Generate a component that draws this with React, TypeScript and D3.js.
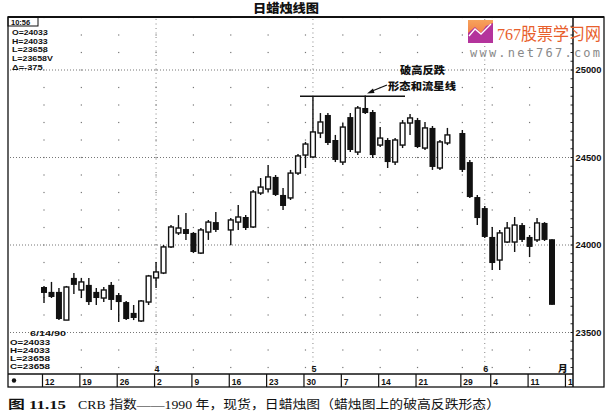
import React from "react";
import * as d3 from "d3";

// ---- data (CRB index, 1990, daily) ----
const tradingDays = [
  "03-12","03-13","03-14","03-15","03-16","03-19","03-20","03-21","03-22","03-23",
  "03-26","03-27","03-28","03-29","03-30",
  "04-02","04-03","04-04","04-05","04-06","04-09","04-10","04-11","04-12",
  "04-16","04-17","04-18","04-19","04-20","04-23","04-24","04-25","04-26","04-27","04-30",
  "05-01","05-02","05-03","05-04","05-07","05-08","05-09","05-10","05-11",
  "05-14","05-15","05-16","05-17","05-18","05-21","05-22","05-23","05-24","05-25",
  "05-29","05-30","05-31",
  "06-01","06-04","06-05","06-06","06-07","06-08","06-11","06-12","06-13","06-14",
];
const opens = [
  23760,23732,23732,23571,23812,23743,23772,23732,23697,23772,
  23714,23674,23612,23566,23674,
  23812,23840,23989,24069,24091,24069,23954,24074,24131,
  24086,24131,24160,24103,24297,24320,24389,24286,24269,24411,24514,
  24503,24640,24743,24600,24474,24731,24531,24783,24760,
  24571,24600,24474,24571,24697,24714,24554,24669,24440,24583,
  24640,24474,24274,
  24211,24046,23914,24017,24017,24114,24046,24029,24126,24033,
];
const highs = [
  23766,23789,23754,23766,23840,23812,23812,23754,23760,23789,
  23726,23680,23657,23686,23829,
  23903,24000,24114,24171,24183,24074,24097,24143,24189,
  24154,24229,24171,24314,24383,24457,24400,24326,24429,24520,24589,
  24850,24754,24754,24629,24697,24754,24794,24855,24771,
  24674,24611,24611,24714,24749,24726,24703,24680,24600,24669,
  24657,24486,24286,
  24223,24103,24086,24131,24160,24126,24057,24154,24131,24033,
];
const lows = [
  23669,23697,23571,23571,23720,23697,23657,23657,23674,23629,
  23560,23571,23571,23560,23657,
  23754,23834,23983,24057,24029,23954,23949,24029,24074,
  24000,24086,24086,24097,24286,24303,24280,24200,24257,24400,24440,
  24497,24611,24571,24474,24457,24531,24514,24749,24497,
  24560,24440,24457,24554,24629,24554,24543,24429,24429,24571,
  24417,24269,24114,
  24040,23857,23857,24011,23960,24017,23931,24017,24023,23658,
];
const closes = [
  23726,23703,23577,23760,23772,23789,23674,23697,23743,23686,
  23674,23577,23583,23680,23823,
  23846,23989,24103,24097,24063,23960,24086,24131,24086,
  24143,24160,24097,24303,24331,24389,24286,24223,24411,24509,24577,
  24646,24703,24583,24486,24674,24543,24783,24754,24514,
  24611,24474,24600,24697,24726,24560,24669,24446,24589,24629,
  24429,24274,24154,
  24046,23897,24069,24097,24114,24029,23989,24126,24029,23658,
];
const priceLabels = [23500, 24000, 24500, 25000];
const weekStarts = ["03-12","03-19","03-26","04-02","04-09","04-16","04-23","04-30","05-07","05-14","05-21","05-29","06-04","06-11","06-18"];
const monthStarts = ["04-02","05-01","06-01"];
const monthLabels = ["4","5","6"];
const topInfo = ["O=24033","H=24033","L=23658","L=23658V","Δ=-375"];
const bottomInfo = ["O=24033","H=24033","L=23658","C=23658"];
const peakDay = "05-01";

const parse = d3.timeParse("%Y-%m-%d");
const start = parse("1990-03-12") as Date;
function slotOf(md: string): number {
  const d = parse("1990-" + md) as Date;
  const days = d3.timeDay.count(start, d);
  return Math.floor(days / 7) * 5 + (days % 7);
}

const W = 610, H = 414;
const L = 8, R = 573, RF = 604, T = 17, B = 374, B2 = 387;

export default function App() {
  const x = d3.scaleLinear().domain([0, 68]).range([44, 552]);
  const y = d3.scaleLinear().domain([23500, 25000]).range([332.5, 70]);
  const font = "'Liberation Sans', Arial, sans-serif";

  const gridLevels = d3.range(23300, 25301, 100);
  const tickLevels = d3.range(23300, 25301, 50);

  const peakIdx = tradingDays.indexOf(peakDay);
  const peakY = y(highs[peakIdx]);

  return (
    <svg width={W} height={H} style={{ position: "absolute", left: 0, top: 0, background: "#fff" }}>
      <defs>
        <clipPath id="rowclip"><rect x={L} y={B} width={R - L} height={B2 - B} /></clipPath>
        <linearGradient id="lg" x1="0" y1="0" x2="0" y2="1">
          <stop offset="0" stopColor="#f7a35c" />
          <stop offset="1" stopColor="#ee6a3a" />
        </linearGradient>
      </defs>

      {/* title */}
      <text x={253} y={13} fontFamily="'Noto Sans CJK SC'" fontWeight={900} fontSize={12} textLength={66} lengthAdjust="spacingAndGlyphs" fill="#111">日蜡烛线图</text>

      {/* grid dots at weekly columns */}
      {weekStarts.filter((w) => slotOf(w) <= 68).map((w) =>
        gridLevels.map((v) => (
          <rect key={w + v} x={x(slotOf(w)) - 0.6} y={y(v) - 0.6} width={1.2} height={1.2} fill="#777" />
        ))
      )}
      {/* month dotted lines */}
      {monthStarts.map((m) => (
        <line key={m} x1={x(slotOf(m))} x2={x(slotOf(m))} y1={T + 2} y2={B} stroke="#777" strokeWidth={0.9} strokeDasharray="1,3.5" />
      ))}
      {/* horizontal dotted lines */}
      {priceLabels.map((v) => (
        <line key={v} x1={L + 2} x2={R} y1={y(v)} y2={y(v)} stroke="#666" strokeWidth={0.9} strokeDasharray="1,2" />
      ))}

      {/* candles */}
      {tradingDays.map((d, i) => {
        const cx = x(slotOf(d));
        const o = opens[i], c = closes[i];
        const up = c >= o;
        const yTop = y(Math.max(o, c));
        const hgt = Math.max(1.8, Math.abs(y(o) - y(c)));
        return (
          <g key={d}>
            <line x1={cx} x2={cx} y1={y(highs[i])} y2={y(lows[i])} stroke="#111" strokeWidth={1.4} />
            {up ? (
              <rect x={cx - 2.4} y={yTop} width={4.8} height={hgt} fill="#fff" stroke="#111" strokeWidth={1.4} />
            ) : (
              <rect x={cx - 3} y={yTop} width={6} height={hgt} fill="#111" />
            )}
          </g>
        );
      })}

      {/* resistance line and annotation */}
      <line x1={300} x2={405} y1={peakY} y2={peakY} stroke="#111" strokeWidth={1.7} />
      <line x1={387} y1={85} x2={371} y2={91.5} stroke="#111" strokeWidth={1.3} />
      <path d="M367,93.5 L373,88.5 L374.5,93 Z" fill="#111" />
      <text x={400} y={73.5} fontFamily="'Noto Sans CJK SC'" fontWeight={900} fontSize={10.5} textLength={45} lengthAdjust="spacingAndGlyphs" fill="#111">破高反跌</text>
      <text x={388} y={90} fontFamily="'Noto Sans CJK SC'" fontWeight={900} fontSize={10.5} textLength={68} lengthAdjust="spacingAndGlyphs" fill="#111">形态和流星线</text>

      {/* frame */}
      <rect x={L} y={T} width={RF - L} height={B2 - T} fill="none" stroke="#111" strokeWidth={1.3} />
      <line x1={L} x2={RF} y1={T} y2={T} stroke="#111" strokeWidth={2.2} />
      <line x1={R} x2={R} y1={T} y2={B2} stroke="#111" strokeWidth={1.5} />
      {tickLevels.map((v) => (
        <line key={v} x1={R - 2.5} x2={R} y1={y(v)} y2={y(v)} stroke="#111" strokeWidth={0.9} />
      ))}
      {priceLabels.map((v) => (
        <text key={v} x={575.5} y={y(v) + 3} fontFamily={font} fontWeight={700} fontSize={8.5} textLength={26} lengthAdjust="spacingAndGlyphs" fill="#111">{v}</text>
      ))}

      {/* top-left info */}
      <rect x={L} y={T} width={30} height={9} fill="none" stroke="#111" strokeWidth={1} />
      <text x={11} y={25} fontFamily={font} fontWeight={700} fontSize={7.5} fill="#111">10:56</text>
      {topInfo.map((t, i) => (
        <text key={t} x={12} y={35 + i * 8.7} fontFamily={font} fontWeight={700} fontSize={7.4} textLength={t.length * 5.1} lengthAdjust="spacingAndGlyphs" fill="#111">{t}</text>
      ))}

      {/* bottom-left info */}
      <text x={30} y={336} fontFamily={font} fontWeight={700} fontSize={7.2} textLength={36} lengthAdjust="spacingAndGlyphs" fill="#111">6/14/90</text>
      {bottomInfo.map((t, i) => (
        <text key={t} x={10} y={344.5 + i * 8.1} fontFamily={font} fontWeight={700} fontSize={6.9} textLength={40} lengthAdjust="spacingAndGlyphs" fill="#111">{t}</text>
      ))}

      {/* month labels */}
      {monthStarts.map((m, i) => (
        <text key={m} x={x(slotOf(m)) - 1.5} y={372} fontFamily={font} fontWeight={700} fontSize={9} fill="#111">{monthLabels[i]}</text>
      ))}
      <text x={558} y={372} fontFamily="'Noto Sans CJK SC'" fontWeight={900} fontSize={9.5} fill="#111">月</text>

      {/* date row */}
      <line x1={L} x2={R} y1={B} y2={B} stroke="#111" strokeWidth={1.3} />
      <circle cx={14} cy={380.5} r={2.2} fill="#111" />
      <g clipPath="url(#rowclip)">
        {weekStarts.map((w) => {
          const sx = x(slotOf(w)) - 1.5;
          return (
            <g key={w}>
              <line x1={sx} x2={sx} y1={B} y2={B2} stroke="#111" strokeWidth={1.2} />
              <text x={sx + 2.5} y={384.5} fontFamily={font} fontWeight={700} fontSize={8.5} fill="#111">{String(+w.slice(3))}</text>
            </g>
          );
        })}
      </g>

      {/* watermark */}
      <rect x={468} y={20} width={25} height={23} fill="url(#lg)" />
      <path d="M468,43 L468,33 L475,27 L481,33 L486,26 L493,23 L493,43 Z" fill="#b4349c" />
      <path d="M469,36 L475,29 L481,34 L491,24" fill="none" stroke="#fff" strokeWidth={1.3} />
      <text x={497} y={40} fontFamily="'Liberation Serif', 'Noto Sans CJK SC'" fontSize={17} textLength={104} lengthAdjust="spacingAndGlyphs" fill="#e8602c">767股票学习网</text>
      <text x={470} y={57} fontFamily="'DejaVu Sans Mono', monospace" fontSize={12} textLength={130} lengthAdjust="spacing" fill="#8a8a8a">www.net767.com</text>

      {/* caption */}
      <text x={8} y={409} fontFamily="'Liberation Serif', 'Noto Sans CJK SC'" fontWeight={700} fontSize={12.5} textLength={58} lengthAdjust="spacingAndGlyphs" fill="#111">图 11.15</text>
      <text x={78} y={409} fontFamily="'Liberation Serif', 'Noto Sans CJK SC'" fontSize={12.5} textLength={422} lengthAdjust="spacingAndGlyphs" fill="#111">CRB 指数——1990 年，现货，日蜡烛图（蜡烛图上的破高反跌形态）</text>
    </svg>
  );
}
